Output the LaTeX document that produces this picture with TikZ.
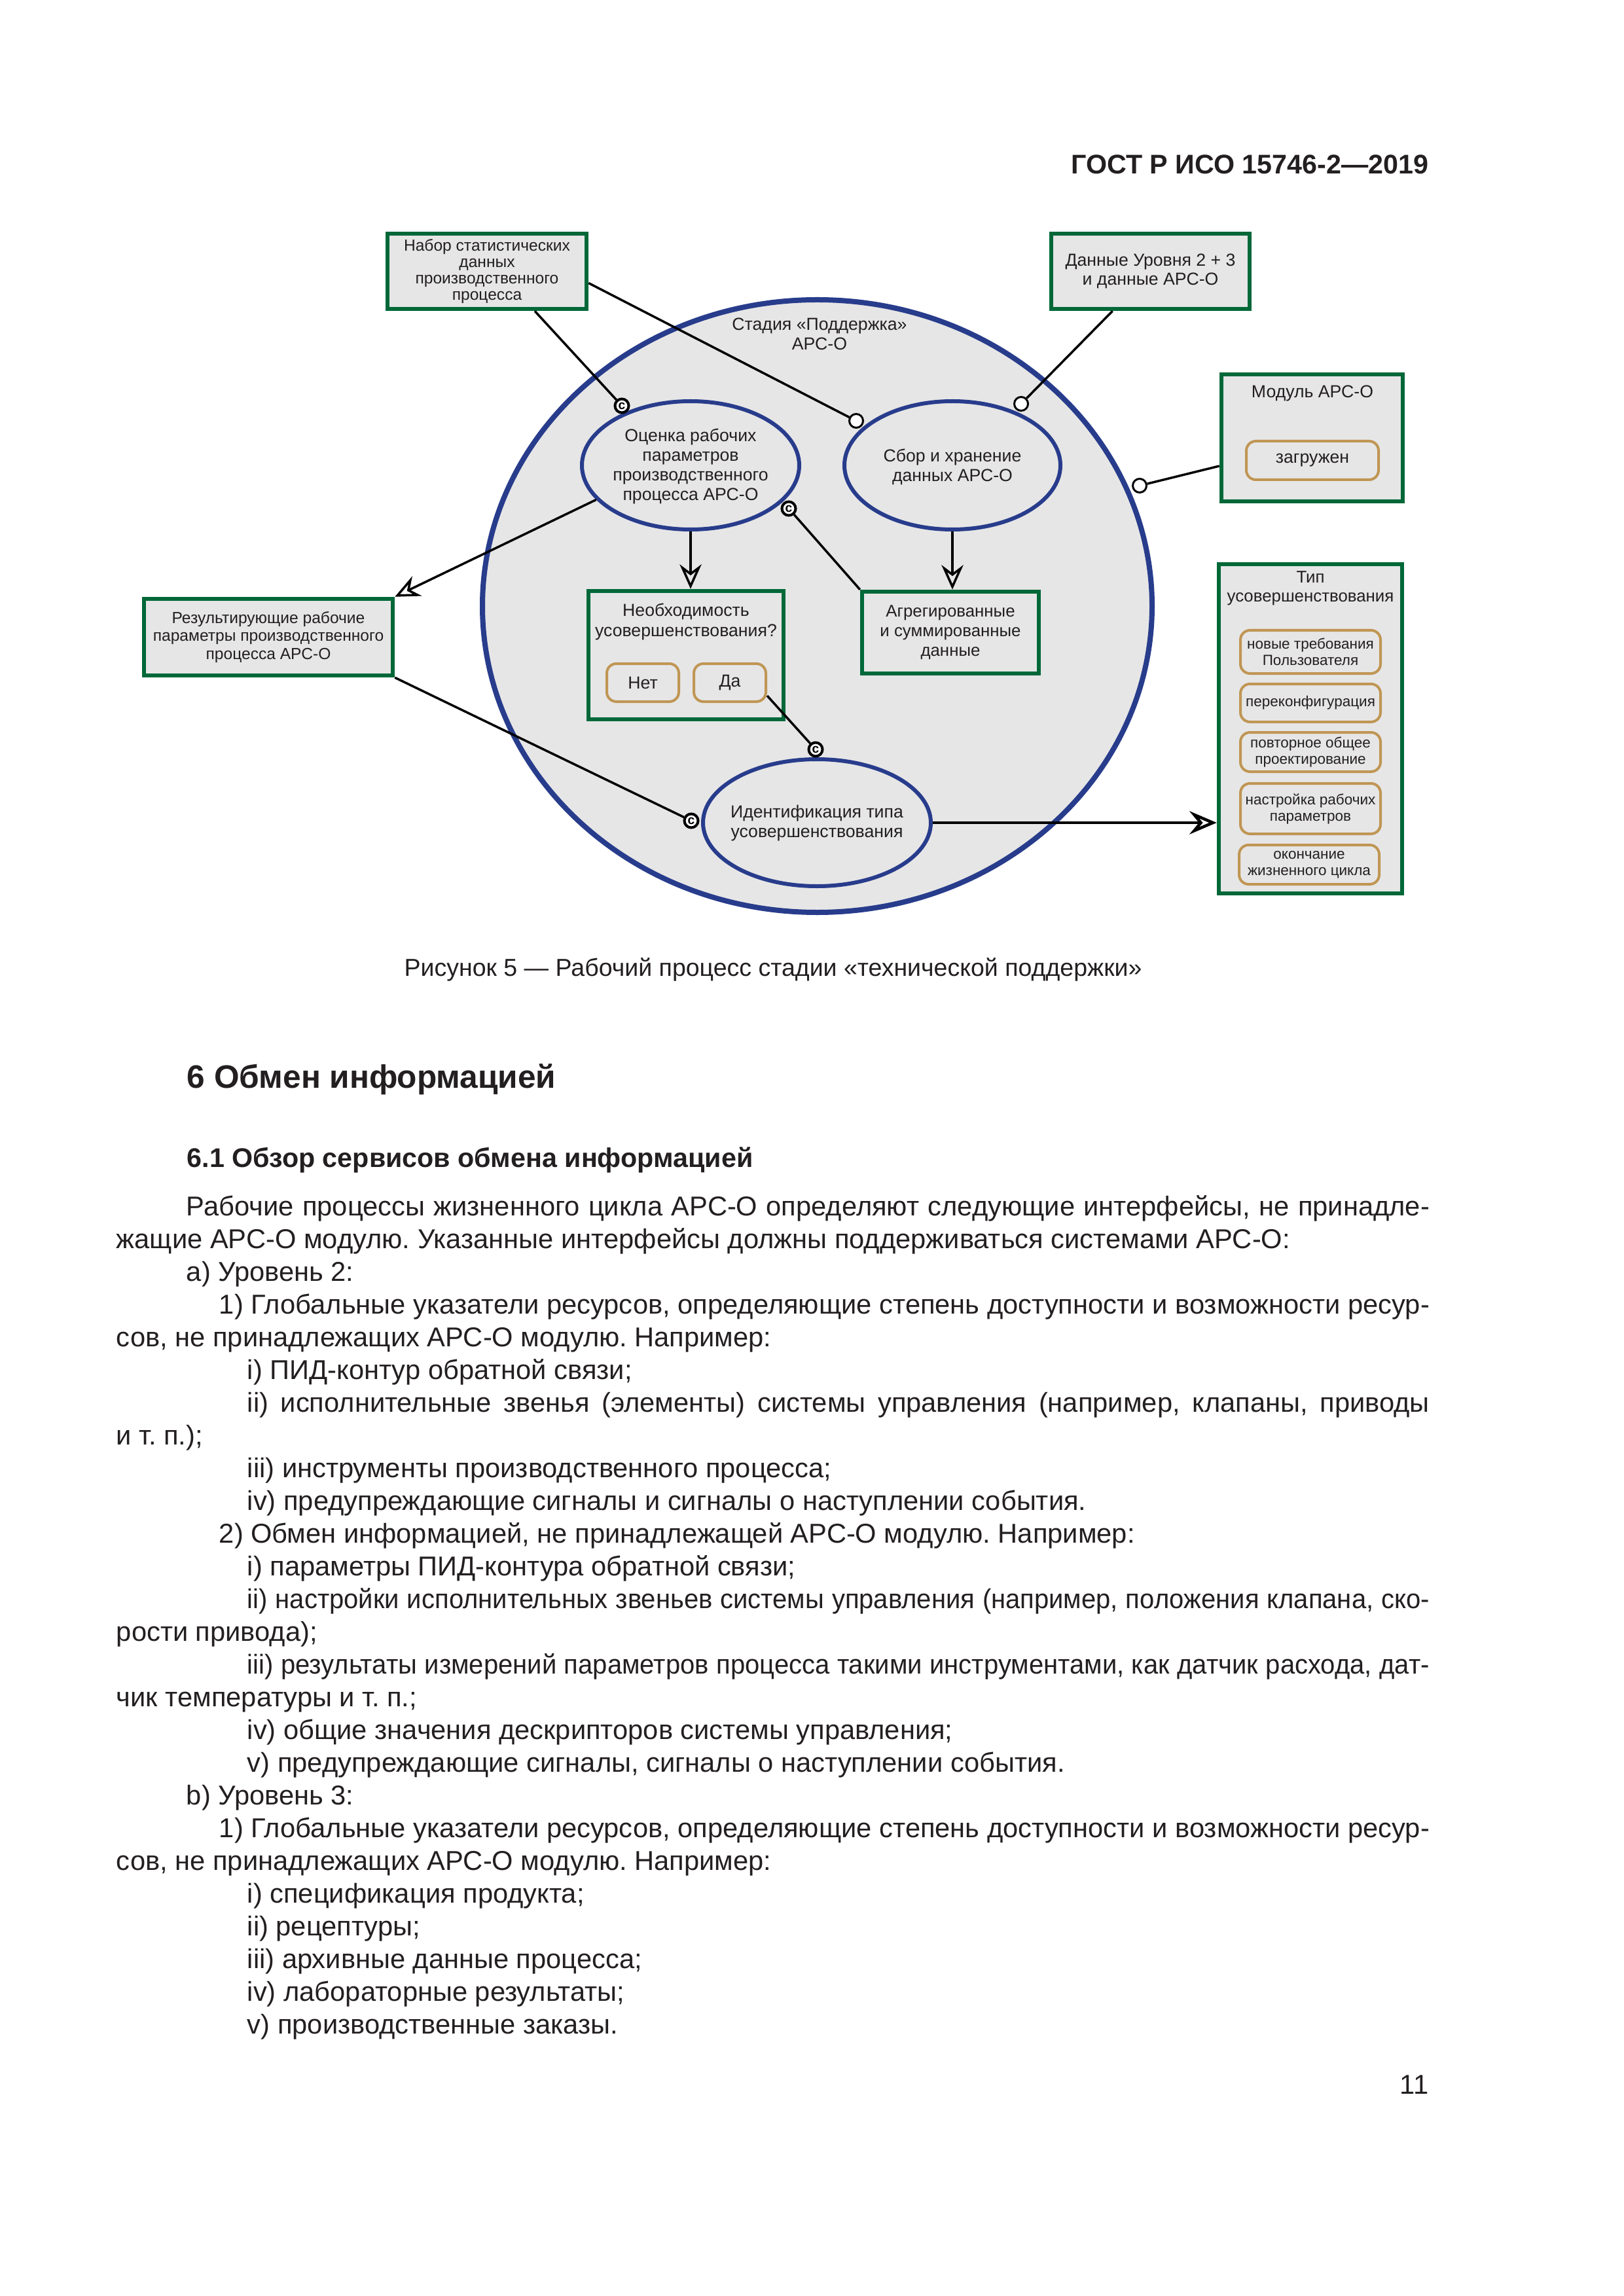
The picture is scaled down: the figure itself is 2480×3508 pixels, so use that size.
\documentclass[tikz,border=0pt]{standalone}
\usepackage{fontspec}
\usepackage{graphicx}
\setmainfont{Liberation Sans}
\usetikzlibrary{arrows.meta,shapes.geometric,calc}
\definecolor{gostgreen}{RGB}{0,104,56}
\definecolor{gostblue}{RGB}{40,60,140}
\definecolor{gosttan}{RGB}{192,150,84}
\definecolor{gostgray}{RGB}{230,230,230}
\definecolor{txt}{RGB}{35,31,32}
\def\PX{0.24pt}
\newcommand{\bodyfnt}{\fontsize{10pt}{12pt}\selectfont\frenchspacing}
\newcommand{\dfnt}{\fontsize{6.4pt}{7.2pt}\selectfont}
\newcommand{\tfnt}{\fontsize{5.4pt}{6pt}\selectfont}
\newcommand{\JL}[2]{\makebox[#1][s]{\spaceskip=0.278em plus 0.6em minus 0.2em\relax #2}}
\newcommand{\JLC}[2]{\scalebox{0.96}[1]{\makebox[#1][s]{#2}}}
\tikzset{
  gbox/.style={draw=gostgreen, line width=6.5*\PX, fill=gostgray, inner sep=0, align=center, text=txt},
  tbox/.style={draw=gosttan, line width=4*\PX, fill=gostgray, rounded corners=3.5pt, inner sep=0, align=center, text=txt},
  bell/.style={ellipse, draw=gostblue, line width=6*\PX, fill=gostgray, inner sep=0},
  etext/.style={align=center, inner sep=0, text=txt, font=\dfnt},
  conn/.style={draw=black, line width=3.5*\PX},
  arr/.style={conn, -{Stealth[open, length=9pt, width=8pt, inset=3pt]}},
  arrb/.style={draw=black, line width=4.5*\PX, -{Stealth[open, length=10pt, width=8.5pt, inset=3.5pt]}},
  ocirc/.style={circle, draw=black, fill=white, line width=3*\PX, minimum size=21*\PX, inner sep=0},
  ccirc/.style={circle, draw=black, fill=white, line width=4*\PX, minimum size=21*\PX, inner sep=0, font=\fontsize{4.6pt}{5pt}\selectfont\bfseries},
  bodyl/.style={anchor=base west, inner sep=0, font=\bodyfnt, text=txt},
}
\begin{document}
\begin{tikzpicture}[x=0.24pt, y=-0.24pt]
\fill[white] (0,0) rectangle (2480,3508);
\path[use as bounding box] (0,0) rectangle (2480,3508);

% header
\node[anchor=base east, inner sep=0, font=\bfseries\fontsize{9.9pt}{12pt}\selectfont, text=txt] (hdr) at (2183,266) {ГОСТ Р ИСО 15746-2—2019};

% big stage ellipse
\node[bell, line width=8*\PX, minimum width=1023*\PX, minimum height=936*\PX] (stage) at (1248.5,926) {};
\node[anchor=base, inner sep=0, font=\dfnt, text=txt] (stageA) at (1252,505) {Стадия «Поддержка»};
\node[anchor=base, inner sep=0, font=\dfnt, text=txt] (stageB) at (1252,535) {АРС-О};

% inner ellipses
\node[bell, minimum width=332*\PX, minimum height=196*\PX] (eval) at (1055,711) {};
\node[etext] (evalT) at (1055,712) {Оценка рабочих\\параметров\\производственного\\процесса АРС-О};
\node[bell, minimum width=330*\PX, minimum height=196*\PX] (sbor) at (1455,711) {};
\node[etext] (sborT) at (1455,713) {Сбор и хранение\\данных АРС-О};
\node[bell, minimum width=348*\PX, minimum height=194*\PX] (ident) at (1248,1257) {};
\node[etext] (identT) at (1248,1258) {Идентификация типа\\усовершенствования};

% green boxes
\node[gbox, minimum width=304*\PX, minimum height=115*\PX, font=\fontsize{5.9pt}{6pt}\selectfont] (nabor) at (744,414.5) {Набор статистических\\данных\\производственного\\процесса};
\node[gbox, minimum width=303*\PX, minimum height=115*\PX, font=\fontsize{6.4pt}{6.9pt}\selectfont] (dannye) at (1757.5,414.5) {Данные Уровня 2 + 3\\и данные АРС-О};
\node[gbox, minimum width=277*\PX, minimum height=194*\PX] (modul) at (2004.5,669) {};
\node[anchor=base, inner sep=0, font=\dfnt, text=txt] (modulT) at (2005,608) {Модуль АРС-О};
\node[tbox, minimum width=202*\PX, minimum height=59*\PX, font=\dfnt] (zagr) at (2005,703.5) {загружен};

\node[gbox, minimum width=380*\PX, minimum height=117*\PX, font=\fontsize{5.9pt}{6.6pt}\selectfont] (res) at (410,973.5) {Результирующие рабочие\\параметры производственного\\процесса АРС-О};

\node[gbox, minimum width=298*\PX, minimum height=196*\PX] (need) at (1048,1001) {};
\node[anchor=base, inner sep=0, font=\dfnt, text=txt] (needA) at (1048,942) {Необходимость};
\node[anchor=base, inner sep=0, font=\dfnt, text=txt] (needB) at (1048,972) {усовершенствования?};
\node[tbox, minimum width=110*\PX, minimum height=58*\PX, font=\dfnt] (net) at (982,1043) {Нет};
\node[tbox, minimum width=110*\PX, minimum height=58*\PX, font=\dfnt] (da) at (1115,1043) {Да};

\node[gbox, minimum width=270*\PX, minimum height=125*\PX, font=\fontsize{6.2pt}{7.2pt}\selectfont] (agr) at (1452,966.5) {Агрегированные\\и суммированные\\данные};

\node[gbox, minimum width=280*\PX, minimum height=503*\PX] (tip) at (2002,1113.5) {};
\node[anchor=base, inner sep=0, font=\fontsize{6.2pt}{7pt}\selectfont, text=txt] (tipA) at (2002,890) {Тип};
\node[anchor=base, inner sep=0, font=\fontsize{6.2pt}{7pt}\selectfont, text=txt] (tipB) at (2002,920) {усовершенствования};
\node[tbox, minimum width=214*\PX, minimum height=66*\PX, font=\tfnt] (t1) at (2002,996) {новые требования\\Пользователя};
\node[tbox, minimum width=214*\PX, minimum height=58*\PX, font=\tfnt] (t2) at (2002,1074) {переконфигурация};
\node[tbox, minimum width=214*\PX, minimum height=60*\PX, font=\tfnt] (t3) at (2002,1149) {повторное общее\\проектирование};
\node[tbox, minimum width=214*\PX, minimum height=77*\PX, font=\tfnt] (t4) at (2002,1235.5) {настройка рабочих\\параметров};
\node[tbox, minimum width=214*\PX, minimum height=60*\PX, font=\tfnt] (t5) at (2000,1321) {окончание\\жизненного цикла};

% connector circles
\node[ccirc] (c1) at (950,620) {c};
\node[ccirc] (c2) at (1205,777) {c};
\node[ccirc] (c3) at (1056,1254) {c};
\node[ccirc] (c4) at (1246,1145) {c};
\node[ocirc] (o1) at (1308,643) {};
\node[ocirc] (o2) at (1560,617) {};
\node[ocirc] (o3) at (1741,742) {};

% connectors
\draw[conn] ($(nabor.south)+(73,0)$) -- (c1);
\draw[conn] ($(nabor.east)+(0,18)$) -- (o1);
\draw[conn] ($(dannye.south)+(-58,0)$) -- (o2);
\draw[conn] ($(modul.west)+(0,43)$) -- (o3);
\draw[conn] (c2) -- (agr.north west);
\draw[arr] (sbor.south) -- (sbor.south |- agr.north);
\draw[arr] (eval.south) -- (eval.south |- need.north);
\draw[arr] (eval.200) -- (res.north east);
\draw[conn] (res.south east) -- (c3);
\draw[conn] ($(da.east)+(0,20)$) -- (c4);
\draw[arrb] (ident.east) -- (ident.east -| tip.west);

% caption and headings
\node[anchor=base, inner sep=0, font=\fontsize{9pt}{11pt}\selectfont, text=txt] (cap) at (1181,1491) {Рисунок 5 — Рабочий процесс стадии «технической поддержки»};
\node[anchor=base west, inner sep=0, font=\bfseries\fontsize{11.9pt}{14pt}\selectfont, text=txt] (h6) at (285,1662) {6 Обмен информацией};
\node[anchor=base west, inner sep=0, font=\bfseries\fontsize{9.9pt}{12pt}\selectfont, text=txt] (h61) at (285,1783) {6.1 Обзор сервисов обмена информацией};

% body text
\node[bodyl] (b0) at (284,1857) {\JL{455.8pt}{Рабочие процессы жизненного цикла АРС-О определяют следующие интерфейсы, не принадле-}};
\node[bodyl] (b1) at (177,1907) {жащие АРС-О модулю. Указанные интерфейсы должны поддерживаться системами АРС-О:};
\node[bodyl] (b2) at (284,1957) {a) Уровень 2:};
\node[bodyl] (b3) at (334,2007) {\JL{443.8pt}{1) Глобальные указатели ресурсов, определяющие степень доступности и возможности ресур-}};
\node[bodyl] (b4) at (177,2057) {сов, не принадлежащих АРС-О модулю. Например:};
\node[bodyl] (b5) at (377,2107) {i) ПИД-контур обратной связи;};
\node[bodyl] (b6) at (377,2157) {\JL{433.4pt}{ii) исполнительные звенья (элементы) системы управления (например, клапаны, приводы}};
\node[bodyl] (b7) at (177,2207) {и т. п.);};
\node[bodyl] (b8) at (377,2257) {iii) инструменты производственного процесса;};
\node[bodyl] (b9) at (377,2307) {iv) предупреждающие сигналы и сигналы о наступлении события.};
\node[bodyl] (b10) at (334,2357) {2) Обмен информацией, не принадлежащей АРС-О модулю. Например:};
\node[bodyl] (b11) at (377,2407) {i) параметры ПИД-контура обратной связи;};
\node[bodyl] (b12) at (377,2457) {\JLC{451.5pt}{ii) настройки исполнительных звеньев системы управления (например, положения клапана, ско-}};
\node[bodyl] (b13) at (177,2507) {рости привода);};
\node[bodyl] (b14) at (377,2557) {\JLC{451.5pt}{iii) результаты измерений параметров процесса такими инструментами, как датчик расхода, дат-}};
\node[bodyl] (b15) at (177,2607) {чик температуры и т. п.;};
\node[bodyl] (b16) at (377,2657) {iv) общие значения дескрипторов системы управления;};
\node[bodyl] (b17) at (377,2707) {v) предупреждающие сигналы, сигналы о наступлении события.};
\node[bodyl] (b18) at (284,2757) {b) Уровень 3:};
\node[bodyl] (b19) at (334,2807) {\JL{443.8pt}{1) Глобальные указатели ресурсов, определяющие степень доступности и возможности ресур-}};
\node[bodyl] (b20) at (177,2857) {сов, не принадлежащих АРС-О модулю. Например:};
\node[bodyl] (b21) at (377,2907) {i) спецификация продукта;};
\node[bodyl] (b22) at (377,2957) {ii) рецептуры;};
\node[bodyl] (b23) at (377,3007) {iii) архивные данные процесса;};
\node[bodyl] (b24) at (377,3057) {iv) лабораторные результаты;};
\node[bodyl] (b25) at (377,3107) {v) производственные заказы.};

\node[anchor=base east, inner sep=0, font=\bodyfnt, text=txt] (pg) at (2183,3199) {11};
\end{tikzpicture}
\end{document}
